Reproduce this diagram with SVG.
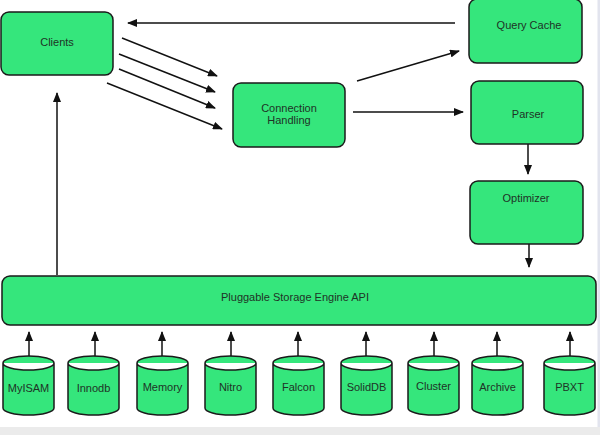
<svg xmlns="http://www.w3.org/2000/svg" width="600" height="435" viewBox="0 0 600 435">
<defs>
<marker id="ah" markerWidth="10" markerHeight="8" refX="9" refY="4" orient="auto" markerUnits="userSpaceOnUse">
<path d="M0,0 L10,4 L0,8 Z" fill="#111"/>
</marker>
<style>
.box{fill:#35e67c;stroke:#1a1a1a;stroke-width:1.5}
.cyl{fill:#35e67c;stroke:#1a1a1a;stroke-width:1.5}
.t{font-family:"Liberation Sans",Arial,sans-serif;font-size:11px;fill:#1f3326;text-anchor:middle}
.c{fill:none;stroke:#111;stroke-width:1.5;marker-end:url(#ah)}
</style>
</defs>
<rect x="0" y="0" width="600" height="435" fill="#ffffff"/>
<rect x="0" y="427" width="600" height="8" fill="#ebebeb"/>
<rect x="597.5" y="0" width="2.5" height="427" fill="#e2e4ee"/>

<g id="connectors">
<line class="c" x1="455" y1="23" x2="128" y2="23"/>
<line class="c" x1="122" y1="38" x2="217" y2="76"/>
<line class="c" x1="119" y1="54" x2="215" y2="92"/>
<line class="c" x1="119" y1="69" x2="215" y2="108"/>
<line class="c" x1="107" y1="83" x2="222" y2="129"/>
<line class="c" x1="357" y1="81" x2="459" y2="51"/>
<line class="c" x1="353" y1="112" x2="463" y2="112"/>
<line class="c" x1="528" y1="144" x2="528" y2="174"/>
<line class="c" x1="529" y1="244" x2="529" y2="267"/>
<line class="c" x1="57" y1="275" x2="57" y2="93"/>
<line class="c" x1="29" y1="357" x2="29" y2="332"/>
<line class="c" x1="95" y1="357" x2="95" y2="332"/>
<line class="c" x1="162" y1="357" x2="162" y2="332"/>
<line class="c" x1="231" y1="357" x2="231" y2="332"/>
<line class="c" x1="298" y1="357" x2="298" y2="332"/>
<line class="c" x1="366" y1="357" x2="366" y2="332"/>
<line class="c" x1="434" y1="357" x2="434" y2="332"/>
<line class="c" x1="497" y1="357" x2="497" y2="332"/>
<line class="c" x1="570" y1="357" x2="570" y2="332"/>
</g>

<g id="clients"><rect class="box" x="1" y="12" width="112" height="63" rx="8"/><text class="t" x="57" y="46">Clients</text></g>
<g id="query-cache"><rect class="box" x="469" y="-1" width="113" height="64" rx="8"/><text class="t" x="529" y="29">Query Cache</text></g>
<g id="connection-handling"><rect class="box" x="233" y="83" width="112" height="64" rx="8"/><text class="t" x="289" y="112">Connection</text><text class="t" x="289" y="124">Handling</text></g>
<g id="parser"><rect class="box" x="471" y="81" width="112" height="63" rx="8"/><text class="t" x="528" y="118">Parser</text></g>
<g id="optimizer"><rect class="box" x="470" y="181" width="113" height="63" rx="8"/><text class="t" x="526" y="202">Optimizer</text></g>
<g id="storage-api"><rect class="box" x="2" y="276" width="594" height="49" rx="8"/><text class="t" x="295" y="301">Pluggable Storage Engine API</text></g>

<g id="myisam"><path class="cyl" d="M3,363 A25.5,7 0 0 1 54,363 V408 A25.5,7 0 0 1 3,408 Z M3,363 A25.5,7 0 0 0 54,363"/><text class="t" x="28.5" y="392">MyISAM</text></g>
<g id="innodb"><path class="cyl" d="M68,363 A25.5,7 0 0 1 119,363 V408 A25.5,7 0 0 1 68,408 Z M68,363 A25.5,7 0 0 0 119,363"/><text class="t" x="93.5" y="392">Innodb</text></g>
<g id="memory"><path class="cyl" d="M137,363 A25.5,7 0 0 1 188,363 V408 A25.5,7 0 0 1 137,408 Z M137,363 A25.5,7 0 0 0 188,363"/><text class="t" x="162.5" y="391">Memory</text></g>
<g id="nitro"><path class="cyl" d="M205,363 A25.5,7 0 0 1 256,363 V408 A25.5,7 0 0 1 205,408 Z M205,363 A25.5,7 0 0 0 256,363"/><text class="t" x="230.5" y="391">Nitro</text></g>
<g id="falcon"><path class="cyl" d="M273,363 A25.5,7 0 0 1 324,363 V408 A25.5,7 0 0 1 273,408 Z M273,363 A25.5,7 0 0 0 324,363"/><text class="t" x="298.5" y="391">Falcon</text></g>
<g id="soliddb"><path class="cyl" d="M341,363 A25.5,7 0 0 1 392,363 V408 A25.5,7 0 0 1 341,408 Z M341,363 A25.5,7 0 0 0 392,363"/><text class="t" x="366.5" y="391">SolidDB</text></g>
<g id="cluster"><path class="cyl" d="M408,363 A25.5,7 0 0 1 459,363 V408 A25.5,7 0 0 1 408,408 Z M408,363 A25.5,7 0 0 0 459,363"/><text class="t" x="433.5" y="390">Cluster</text></g>
<g id="archive"><path class="cyl" d="M472,363 A25.5,7 0 0 1 523,363 V408 A25.5,7 0 0 1 472,408 Z M472,363 A25.5,7 0 0 0 523,363"/><text class="t" x="497.5" y="391">Archive</text></g>
<g id="pbxt"><path class="cyl" d="M544,363 A25.5,7 0 0 1 595,363 V408 A25.5,7 0 0 1 544,408 Z M544,363 A25.5,7 0 0 0 595,363"/><text class="t" x="569.5" y="391">PBXT</text></g>
</svg>
